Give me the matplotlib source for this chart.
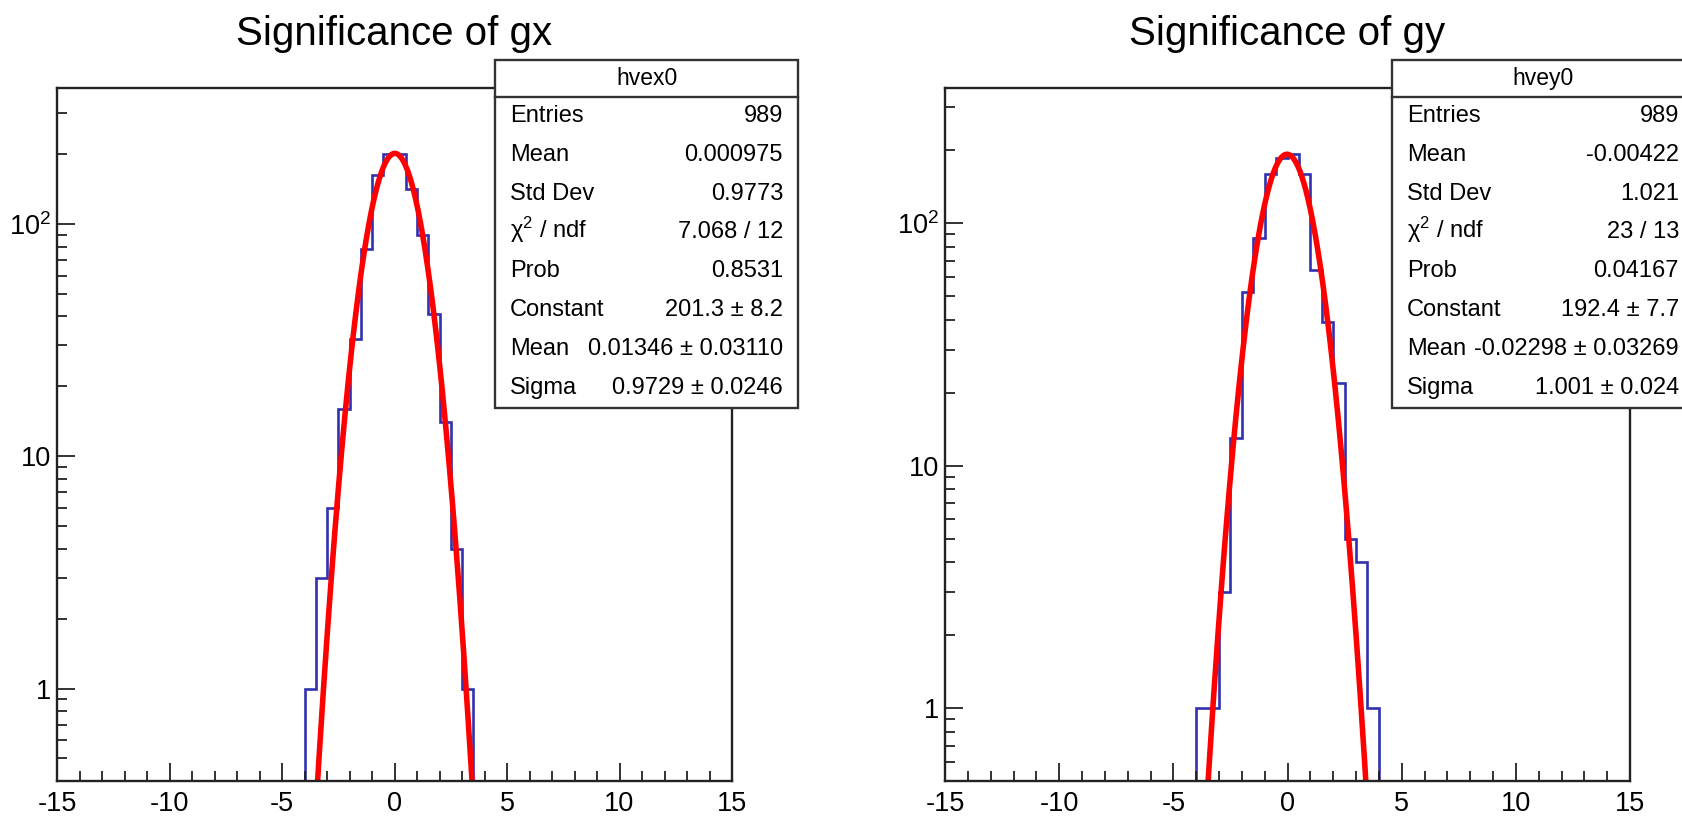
import numpy as np
import matplotlib
matplotlib.use("Agg")
import matplotlib.pyplot as plt
from matplotlib.patches import Rectangle
from matplotlib.lines import Line2D
from matplotlib.ticker import FixedLocator, MultipleLocator, LogLocator, NullFormatter, FuncFormatter

plt.rcParams['font.family'] = ['Liberation Sans', 'DejaVu Sans']
plt.rcParams['axes.unicode_minus'] = False
plt.rcParams['mathtext.fontset'] = 'custom'
plt.rcParams['mathtext.rm'] = 'Liberation Sans'
plt.rcParams['mathtext.it'] = 'Liberation Sans'

W, H = 1682, 817

# data
titles = ["Significance of gx", "Significance of gy"]
hist_names = ["hvex0", "hvey0"]
bin_width = 0.5
first_edge = -4.0
counts_gx = [1, 3, 6, 16, 32, 78, 162, 200, 200, 141, 90, 41, 14, 4, 1]
counts_gy = [1, 1, 3, 13, 52, 87, 160, 185, 192, 160, 64, 39, 22, 5, 4, 1]
# gaussian fit: constant, mean, sigma
fit_gx = [201.3, 0.01346, 0.9729]
fit_gy = [192.4, -0.02298, 1.001]
stat_labels = ["Entries", "Mean", "Std Dev", r"$\mathregular{\chi^{2}}$ / ndf",
               "Prob", "Constant", "Mean", "Sigma"]
stats_gx = ["989", "0.000975", "0.9773", "7.068 / 12", "0.8531",
            "201.3 ± 8.2", "0.01346 ± 0.03110", "0.9729 ± 0.0246"]
stats_gy = ["989", "-0.00422", "1.021", "23 / 13", "0.04167",
            "192.4 ± 7.7", "-0.02298 ± 0.03269", "1.001 ± 0.024"]
y_ranges = [(0.4, 385), (0.5, 361)]
x_range = (-15, 15)


def fx(x):
    return x / W


def fy(y):
    return 1 - y / H


fig = plt.figure(figsize=(W / 100, H / 100), dpi=100)

# pixel boxes (left, top, right, bottom)
axes_px = [(57, 88, 732, 781), (945, 88, 1630, 781)]
box_px = [(495, 60, 798, 408), (1392, 60, 1694, 408)]

panels = [
    (counts_gx, fit_gx, stats_gx),
    (counts_gy, fit_gy, stats_gy),
]

for i, (counts, fit, stats) in enumerate(panels):
    l, t, r, b = axes_px[i]
    ax = fig.add_axes([fx(l), fy(b), (r - l) / W, (b - t) / H])
    ax.set_yscale('log')

    edges = first_edge + bin_width * np.arange(len(counts) + 1)
    ax.stairs(counts, edges, baseline=1e-3, color='#3030b0', linewidth=1.9)

    xs = np.linspace(x_range[0], x_range[1], 2001)
    const, mean, sigma = fit
    ax.plot(xs, const * np.exp(-0.5 * ((xs - mean) / sigma) ** 2),
            color='#ff0000', linewidth=4)

    ax.set_xlim(*x_range)
    ax.set_ylim(*y_ranges[i])

    ax.xaxis.set_major_locator(MultipleLocator(5))
    ax.xaxis.set_minor_locator(MultipleLocator(1))
    ax.yaxis.set_major_locator(FixedLocator([1, 10, 100]))
    ax.yaxis.set_minor_locator(LogLocator(base=10, subs=np.arange(2, 10)))
    ax.yaxis.set_minor_formatter(NullFormatter())
    ax.yaxis.set_major_formatter(FuncFormatter(
        lambda v, p: {1: "1", 10: "10", 100: r"$\mathregular{10^{2}}$"}.get(int(round(v)), "")))
    ax.xaxis.set_major_formatter(FuncFormatter(lambda v, p: "%d" % v))

    ax.tick_params(which='both', direction='in', top=False, right=False,
                   labelsize=19.5, color='#222222', width=1.3)
    ax.tick_params(which='major', length=13)
    ax.tick_params(which='minor', length=7)
    ax.tick_params(axis='x', pad=7)
    ax.tick_params(axis='y', pad=4)
    for s in ax.spines.values():
        s.set_linewidth(1.7)
        s.set_color('#222222')

    fig.text(fx((l + r) / 2), fy(45), titles[i], ha='center', va='baseline',
             fontsize=29)

    # stats box
    bl, bt, br, bb = box_px[i]
    rect = Rectangle((fx(bl), fy(bb)), (br - bl) / W, (bb - bt) / H,
                     transform=fig.transFigure, facecolor='white',
                     edgecolor='#333333', linewidth=1.7, zorder=10)
    fig.add_artist(rect)
    fig.add_artist(Line2D([fx(bl), fx(br)], [fy(97), fy(97)],
                          transform=fig.transFigure, color='#333333',
                          linewidth=1.7, zorder=11))
    fig.text(fx((bl + br) / 2), fy(85), hist_names[i], ha='center',
             va='baseline', fontsize=16.5, zorder=12)
    for k, (lab, val) in enumerate(zip(stat_labels, stats)):
        yb = 121.7 + 38.9 * k
        fig.text(fx(bl + 15), fy(yb), lab, ha='left', va='baseline',
                 fontsize=17, zorder=12)
        fig.text(fx(br - 15), fy(yb), val, ha='right', va='baseline',
                 fontsize=17, zorder=12)

fig.savefig("out.png", dpi=100)
